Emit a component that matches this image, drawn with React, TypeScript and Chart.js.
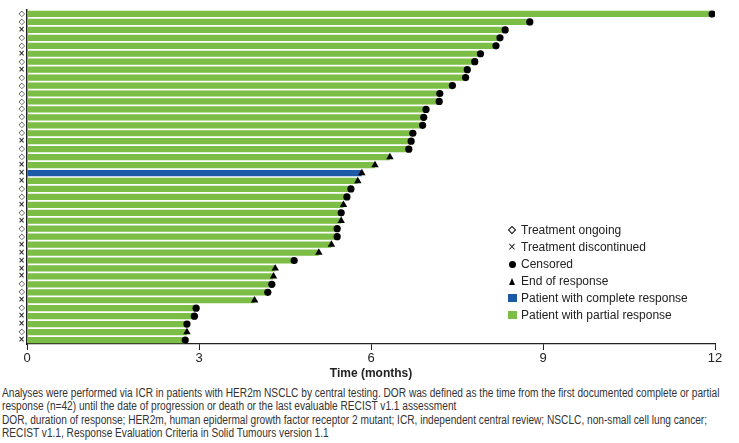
import React, { useEffect, useRef } from "react";
import { Chart, registerables } from "chart.js";

Chart.register(...registerables);

// 42 patients, sorted by duration of response (months)
const patients: string[] = Array.from({ length: 42 }, (_, i) => `P${i + 1}`);

const durations: number[] = [
  11.95, 8.77, 8.34, 8.25, 8.18, 7.91, 7.81, 7.68, 7.65, 7.42,
  7.2, 7.19, 6.96, 6.92, 6.9, 6.73, 6.7, 6.66, 6.33, 6.07,
  5.84, 5.77, 5.65, 5.58, 5.52, 5.48, 5.48, 5.41, 5.41, 5.31,
  5.09, 4.66, 4.33, 4.3, 4.27, 4.2, 3.97, 2.95, 2.92, 2.79,
  2.79, 2.76,
];

// "O" = treatment ongoing, "D" = treatment discontinued
const treatmentStatus: string[] = [
  "O", "O", "D", "O", "O", "D", "O", "D", "O", "O",
  "O", "O", "O", "O", "O", "O", "D", "O", "O", "D",
  "D", "D", "O", "O", "D", "O", "D", "O", "O", "D",
  "D", "D", "D", "D", "O", "O", "D", "O", "D", "D",
  "O", "D",
];

// "C" = censored, "E" = end of response
const endEvent: string[] = [
  "C", "C", "C", "C", "C", "C", "C", "C", "C", "C",
  "C", "C", "C", "C", "C", "C", "C", "C", "E", "E",
  "E", "E", "C", "C", "E", "C", "E", "C", "C", "E",
  "E", "C", "E", "E", "C", "C", "E", "C", "C", "C",
  "E", "C",
];

// "CR" = complete response, "PR" = partial response
const bestResponse: string[] = patients.map((_, i) => (i === 20 ? "CR" : "PR"));

const xTicks: number[] = [0, 3, 6, 9, 12];

const GREEN = "#7cbd45";
const BLUE = "#1c5aa6";

const legendItems: { label: string; kind: string }[] = [
  { label: "Treatment ongoing", kind: "diamond" },
  { label: "Treatment discontinued", kind: "cross" },
  { label: "Censored", kind: "circle" },
  { label: "End of response", kind: "triangle" },
  { label: "Patient with complete response", kind: "blue" },
  { label: "Patient with partial response", kind: "green" },
];

const footnoteLines: string[] = [
  "Analyses were performed via ICR in patients with HER2m NSCLC by central testing. DOR was defined as the time from the first documented complete or partial",
  "response (n=42) until the date of progression or death or the last evaluable RECIST v1.1 assessment",
  "DOR, duration of response; HER2m, human epidermal growth factor receptor 2 mutant; ICR, independent central review; NSCLC, non-small cell lung cancer;",
  "RECIST v1.1, Response Evaluation Criteria in Solid Tumours version 1.1",
];

const SANS = '"Liberation Sans", Arial, sans-serif';

function LegendMarker({ kind }: { kind: string }) {
  const box: React.CSSProperties = {
    width: 10,
    height: 10,
    display: "flex",
    alignItems: "center",
    justifyContent: "center",
    marginRight: 4,
  };
  let inner: React.ReactNode = null;
  if (kind === "diamond") {
    inner = (
      <div
        style={{
          width: 4,
          height: 4,
          border: "1.3px solid #111",
          background: "#fff",
          transform: "rotate(45deg)",
        }}
      />
    );
  } else if (kind === "cross") {
    inner = <span style={{ fontSize: 10, lineHeight: "10px", fontFamily: "DejaVu Sans", color: "#111" }}>×</span>;
  } else if (kind === "circle") {
    inner = <div style={{ width: 7, height: 7, borderRadius: "50%", background: "#000" }} />;
  } else if (kind === "triangle") {
    inner = (
      <div
        style={{
          width: 0,
          height: 0,
          borderLeft: "3.5px solid transparent",
          borderRight: "3.5px solid transparent",
          borderBottom: "7px solid #000",
        }}
      />
    );
  } else if (kind === "blue") {
    inner = <div style={{ width: 9, height: 8, background: BLUE }} />;
  } else {
    inner = <div style={{ width: 9, height: 8, background: GREEN }} />;
  }
  return <div style={box}>{inner}</div>;
}

export default function App() {
  const canvasRef = useRef<HTMLCanvasElement | null>(null);

  useEffect(() => {
    const canvas = canvasRef.current;
    if (!canvas) return;

    const censoredPts = patients
      .map((p, i) => ({ x: durations[i], y: p, e: endEvent[i] }))
      .filter((d) => d.e === "C")
      .map(({ x, y }) => ({ x, y }));
    const endPts = patients
      .map((p, i) => ({ x: durations[i], y: p, e: endEvent[i] }))
      .filter((d) => d.e === "E")
      .map(({ x, y }) => ({ x, y }));

    const chart = new Chart(canvas, {
      type: "bar",
      data: {
        labels: patients,
        datasets: [
          {
            type: "bar",
            label: "Duration of response",
            data: durations,
            backgroundColor: bestResponse.map((r) => (r === "CR" ? BLUE : GREEN)),
            borderWidth: 0,
            barPercentage: 0.78,
            categoryPercentage: 1,
            order: 3,
          } as any,
          {
            type: "scatter",
            label: "Censored",
            data: censoredPts as any,
            pointStyle: "circle",
            pointRadius: 3.6,
            backgroundColor: "#000",
            borderColor: "#000",
            borderWidth: 0,
            order: 1,
          } as any,
          {
            type: "scatter",
            label: "End of response",
            data: endPts as any,
            pointStyle: "triangle",
            pointRadius: 4.3,
            backgroundColor: "#000",
            borderColor: "#000",
            borderWidth: 0,
            order: 0,
          } as any,
        ],
      },
      options: {
        indexAxis: "y",
        responsive: false,
        animation: false,
        devicePixelRatio: 1,
        layout: { padding: { left: 0, right: 24, top: 10, bottom: 0 } },
        plugins: {
          legend: { display: false },
          tooltip: { enabled: false },
        },
        scales: {
          x: {
            type: "linear",
            min: 0,
            max: 12,
            afterBuildTicks: (scale: any) => {
              scale.ticks = xTicks.map((v) => ({ value: v }));
            },
            afterFit: (scale: any) => {
              scale.height = 41;
            },
            ticks: {
              font: { family: SANS, size: 13 },
              color: "#222",
              padding: 1,
              maxRotation: 0,
            },
            grid: {
              drawOnChartArea: false,
              drawTicks: true,
              tickLength: 6,
              color: "#222",
              lineWidth: 1,
            },
            border: { display: true, color: "#222", width: 1.2 },
            title: {
              display: true,
              text: "Time (months)",
              font: { family: SANS, size: 12, weight: "bold" },
              color: "#222",
              padding: { top: 2, bottom: 4 },
            },
          },
          y: {
            type: "category",
            offset: true,
            afterFit: (scale: any) => {
              scale.width = 27;
            },
            ticks: {
              autoSkip: false,
              padding: 2,
              font: { family: "DejaVu Sans", size: 8, weight: "bold" },
              color: "#222",
              callback: (_v: any, i: number) => (treatmentStatus[i] === "O" ? "◇" : "×"),
            },
            grid: { display: false, drawTicks: false, tickLength: 0 },
            border: { display: true, color: "#222", width: 1.5 },
          },
        },
      },
    } as any);

    return () => chart.destroy();
  }, []);

  return (
    <div style={{ position: "absolute", left: 0, top: 0, width: 739, height: 443, background: "#fff", overflow: "hidden" }}>
      <canvas ref={canvasRef} width={739} height={385} style={{ position: "absolute", left: 0, top: 0 }} />
      <div
        style={{
          position: "absolute",
          left: 507,
          top: 222,
          fontFamily: SANS,
          fontSize: 12,
          color: "#222",
        }}
      >
        {legendItems.map((it) => (
          <div key={it.label} style={{ display: "flex", alignItems: "center", height: 16.9, whiteSpace: "nowrap" }}>
            <LegendMarker kind={it.kind} />
            <span>{it.label}</span>
          </div>
        ))}
      </div>
      <div
        style={{
          position: "absolute",
          left: 2,
          top: 387,
          fontFamily: SANS,
          fontSize: 12,
          lineHeight: "13.4px",
          color: "#333",
          transform: "scaleX(0.845)",
          transformOrigin: "0 0",
        }}
      >
        {footnoteLines.map((l) => (
          <div key={l} style={{ whiteSpace: "nowrap" }}>
            {l}
          </div>
        ))}
      </div>
    </div>
  );
}
